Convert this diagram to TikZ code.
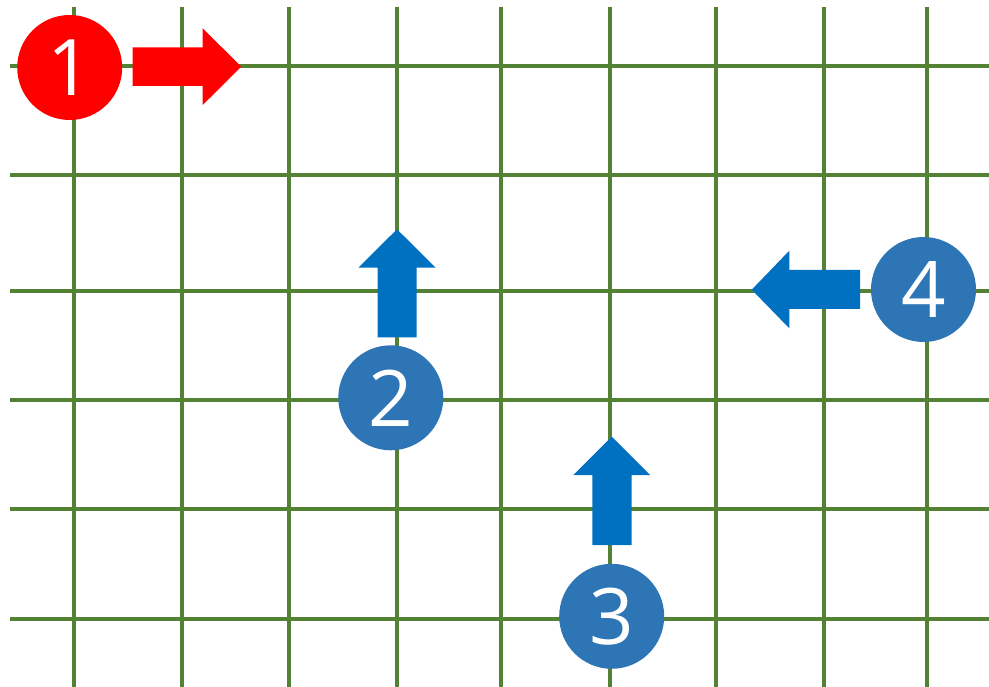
\documentclass[tikz,border=0pt]{standalone}
\usepackage{fontspec}
\setmainfont{Open Sans}
\definecolor{gridgreen}{HTML}{548235}
\definecolor{circblue}{HTML}{2E75B6}
\definecolor{arrblue}{HTML}{0070C0}
\definecolor{myred}{HTML}{FF0000}
\begin{document}
\begin{tikzpicture}[x=1pt,y=-1pt,
  gridline/.style={draw=gridgreen,line width=4pt},
  numcirc/.style={circle,minimum size=105pt,inner sep=0pt,text=white,font=\fontsize{78}{80}\selectfont},
  arrowshape/.style={draw=none}]
\useasboundingbox (0,0) rectangle (989,687);
\foreach \x in {74,182,289,397,501,610,716,824,927}
  \draw[gridline] (\x,7) -- (\x,687);
\foreach \y in {66,175,291,400,509,619}
  \draw[gridline] (10,\y) -- (989,\y);
% arrows
\fill[myred] (132.7,47.3) -- (202.7,47.3) -- (202.7,28.3) -- (241.3,66.7) -- (202.7,105) -- (202.7,86) -- (132.7,86) -- cycle;
\fill[arrblue] (377.7,337.3) -- (377.7,267.7) -- (358.3,267.7) -- (397,229.3) -- (435.7,267.7) -- (416.7,267.7) -- (416.7,337.3) -- cycle;
\fill[arrblue] (592.3,545) -- (592.3,475) -- (573.3,475) -- (611.7,436.7) -- (650,475) -- (631.7,475) -- (631.7,545) -- cycle;
\fill[arrblue] (860,270) -- (789.3,270) -- (789.3,250.7) -- (751.7,289.7) -- (789.3,328.3) -- (789.3,309) -- (860,309) -- cycle;
% circles
\node[numcirc,fill=myred] (c1) at (69.7,67.5) {1};
\node[numcirc,fill=circblue] (c2) at (390.8,397.8) {2};
\node[numcirc,fill=circblue] (c3) at (611.7,616.3) {3};
\node[numcirc,fill=circblue] (c4) at (923.5,289.5) {4};
\end{tikzpicture}
\end{document}
